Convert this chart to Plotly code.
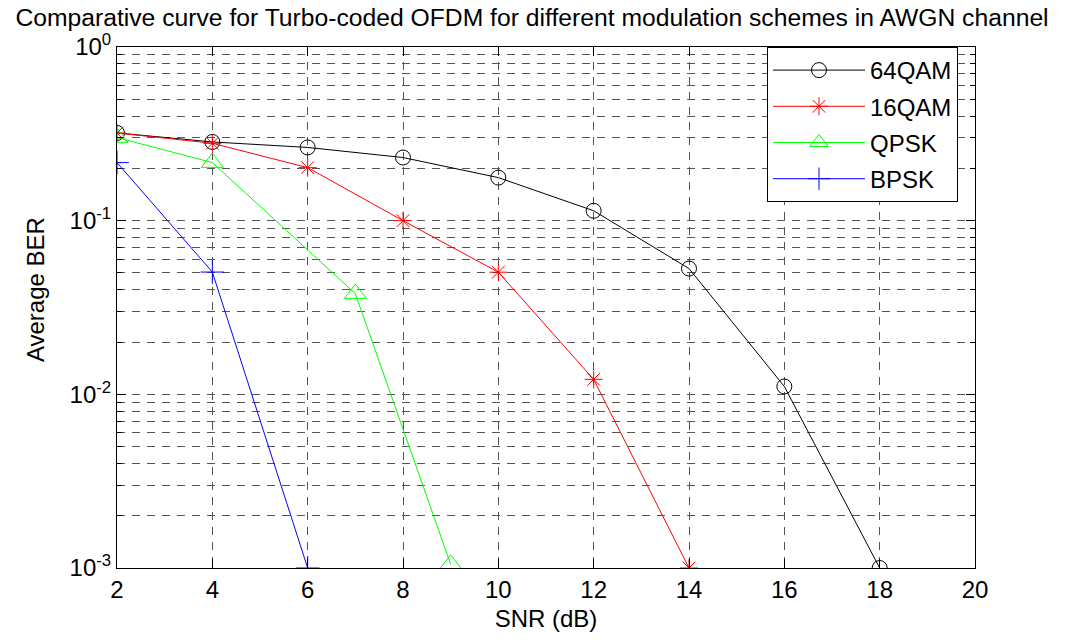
import plotly.graph_objects as go

snr_64 = [2, 4, 6, 8, 10, 12, 14, 16, 18]
ber_64 = [0.32, 0.284, 0.264, 0.231, 0.177, 0.114, 0.053, 0.0111, 0.001]
snr_16 = [2, 4, 6, 8, 10, 12, 14]
ber_16 = [0.32, 0.279, 0.202, 0.1, 0.0505, 0.0122, 0.001]
snr_qpsk = [2, 4, 7, 9]
ber_qpsk = [0.301, 0.216, 0.038, 0.00105]
snr_bpsk = [2, 4, 6]
ber_bpsk = [0.216, 0.0506, 0.001]

x_ticks = [2, 4, 6, 8, 10, 12, 14, 16, 18, 20]
y_tickvals = [1e-3, 1e-2, 1e-1, 1]
y_ticktext = ["10<sup>-3</sup>", "10<sup>-2</sup>", "10<sup>-1</sup>", "10<sup>0</sup>"]
y_minor = [m * 10.0 ** e for e in (-3, -2, -1) for m in range(2, 10)]

FONT = "Liberation Sans, Arial, sans-serif"
W, H = 1083, 640
ML, MR, MT, MB = 117, 108, 47, 70

fig = go.Figure()
fig.add_trace(go.Scatter(x=snr_64, y=ber_64, name="64QAM", mode="lines+markers", legendgroup="a",
                         line=dict(color="black", width=1),
                         marker=dict(symbol="circle-open", size=15, color="black", line=dict(width=1))))
fig.add_trace(go.Scatter(x=snr_16, y=ber_16, name="16QAM", mode="lines+markers", legendgroup="b",
                         line=dict(color="red", width=1),
                         marker=dict(symbol="asterisk-open", size=15, color="red", line=dict(width=1, color="red"))))
fig.add_trace(go.Scatter(x=snr_qpsk, y=ber_qpsk, name="QPSK", mode="lines+markers", legendgroup="c",
                         line=dict(color="#00ff00", width=1),
                         marker=dict(symbol="triangle-up-open", size=19, color="#00ff00", line=dict(width=1))))
fig.add_trace(go.Scatter(x=snr_bpsk, y=ber_bpsk, name="BPSK", mode="lines+markers", legendgroup="d",
                         line=dict(color="blue", width=1),
                         marker=dict(symbol="cross-thin-open", size=17, color="blue", line=dict(width=1, color="blue"))))

grid_dash = "8px,7px"
grid_col = "#555555"
fig.update_layout(
    width=W, height=H,
    margin=dict(l=ML, r=MR, t=MT, b=MB),
    paper_bgcolor="white", plot_bgcolor="white",
    font=dict(family=FONT, size=24, color="black"),
    title=dict(text="Comparative curve for Turbo-coded OFDM for different modulation schemes in AWGN channel",
               x=532 / W, xref="container", xanchor="center",
               y=1 - 17 / H, yref="container", yanchor="middle",
               font=dict(family=FONT, size=24.7, color="black")),
    showlegend=True,
    legend=dict(x=(958 - ML) / (W - ML - MR), xanchor="right", y=1, yanchor="top",
                bgcolor="white", bordercolor="black", borderwidth=1,
                font=dict(family=FONT, size=24, color="black"),
                itemwidth=92, tracegroupgap=2),
    xaxis=dict(range=[2, 20], tickvals=x_ticks, showline=True, linecolor="black", linewidth=1,
               mirror="ticks", ticks="inside", ticklen=9, tickcolor="black",
               showgrid=True, gridcolor=grid_col, griddash=grid_dash, gridwidth=1,
               zeroline=False, title=dict(text="SNR (dB)", standoff=8, font=dict(size=24)),
               tickfont=dict(size=24)),
    yaxis=dict(type="log", range=[-3, 0], tickvals=y_tickvals, ticktext=y_ticktext,
               showline=True, linecolor="black", linewidth=1,
               mirror="ticks", ticks="inside", ticklen=9, tickcolor="black",
               showgrid=True, gridcolor=grid_col, griddash=grid_dash, gridwidth=1,
               minor=dict(tickmode="array", tickvals=y_minor, showgrid=True, gridcolor=grid_col,
                          griddash=grid_dash, gridwidth=1, ticks="inside", ticklen=5, tickcolor="black"),
               zeroline=False, tickfont=dict(size=24)),
    annotations=[dict(text="Average BER", textangle=-90, xref="paper", yref="paper",
                      x=(35 - ML) / (W - ML - MR), y=(H - MB - 291) / (H - MT - MB),
                      xanchor="center", yanchor="middle", showarrow=False,
                      font=dict(family=FONT, size=24, color="black"))],
)

fig.write_html("out.html")
